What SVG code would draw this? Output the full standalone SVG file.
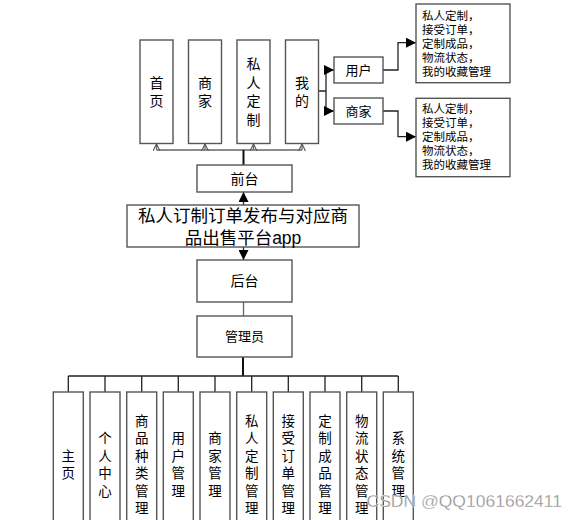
<svg xmlns="http://www.w3.org/2000/svg" width="578" height="520" viewBox="0 0 578 520">
<style>
.box{fill:#fff;stroke:#555;stroke-width:1.4}
.t{font-family:"Liberation Sans","Noto Sans CJK SC",sans-serif;fill:#000;text-anchor:middle}
.vt{font-family:"Noto Sans CJK SC",sans-serif;fill:#000;text-anchor:middle;writing-mode:vertical-rl}
.v{font-size:13.5px;letter-spacing:4px}
.vtop{font-size:14px;letter-spacing:4.7px}
.l{font-family:"Liberation Sans","Noto Sans CJK SC",sans-serif;font-size:11.5px;fill:#000}
.c{fill:none;stroke:#222;stroke-width:1.3}
.g{fill:none;stroke:#666;stroke-width:1.3}
</style>
<defs>
<marker id="fa" markerUnits="userSpaceOnUse" markerWidth="10" markerHeight="10" refX="10" refY="5" orient="auto"><path d="M0,0 L10,5 L0,10 z" fill="#000"/></marker>
<marker id="oa" markerUnits="userSpaceOnUse" markerWidth="10" markerHeight="10" refX="7" refY="4" orient="auto"><path d="M0,0.5 L7,4 L0,7.5" fill="none" stroke="#555" stroke-width="1.1"/></marker>
</defs>
<rect width="578" height="520" fill="#fff"/>

<g id="connectors">
<path class="g" d="M156.5,150 H302"/>
<path class="g" d="M156.5,150 V144" marker-end="url(#oa)"/>
<path class="g" d="M205,150 V144" marker-end="url(#oa)"/>
<path class="g" d="M253.5,150 V144" marker-end="url(#oa)"/>
<path class="g" d="M302,150 V144" marker-end="url(#oa)"/>
<path d="M243.5,165 V150" fill="none" stroke="#111" stroke-width="2"/>
<path class="c" d="M319,91 H326 M326,70 V111"/>
<path class="c" d="M326,70 H334" marker-end="url(#fa)"/>
<path class="c" d="M326,111 H334" marker-end="url(#fa)"/>
<path class="c" d="M383,70 H398 V42.7 H416" marker-end="url(#fa)"/>
<path class="c" d="M383,111 H398 V136.7 H416" marker-end="url(#fa)"/>
<path class="c" d="M243.5,205 V192" marker-end="url(#fa)"/>
<path class="c" d="M243.5,247 V260" marker-end="url(#fa)"/>
<path class="g" d="M243.5,302 V316"/>
<path d="M243,357 V376" fill="none" stroke="#111" stroke-width="2"/>
<path class="c" d="M68.3,376 H398.3 M68.3,376 V392 M105,376 V392 M141.7,376 V392 M178.3,376 V392 M215,376 V392 M251.7,376 V392 M288.3,376 V392 M325,376 V392 M361.7,376 V392 M398.3,376 V392"/>
</g>

<g id="n-home"><rect class="box" x="140" y="40" width="33" height="103.5"/>
<text class="vt vtop" x="156.5" y="94">首页</text></g>
<g id="n-shop"><rect class="box" x="188.5" y="40" width="33" height="103.5"/>
<text class="vt vtop" x="205" y="94">商家</text></g>
<g id="n-custom"><rect class="box" x="237" y="40" width="33" height="103.5"/>
<text class="vt vtop" x="253.5" y="94">私人定制</text></g>
<g id="n-mine"><rect class="box" x="285.5" y="40" width="33" height="103.5"/>
<text class="vt vtop" x="302" y="94">我的</text></g>

<g id="n-user"><rect class="box" x="334" y="57" width="49" height="26"/>
<text class="t" style="font-size:13px" x="358.5" y="74.5">用户</text></g>
<g id="n-merchant"><rect class="box" x="334" y="98" width="49" height="26"/>
<text class="t" style="font-size:13px" x="358.5" y="115.5">商家</text></g>

<g id="n-userfunc"><rect class="box" x="416" y="4" width="94" height="78.7"/>
<text class="l"><tspan x="422" y="19.5">私人定制，</tspan><tspan x="422" y="33.5">接受订单，</tspan><tspan x="422" y="47.5">定制成品，</tspan><tspan x="422" y="61.5">物流状态，</tspan><tspan x="422" y="75.5">我的收藏管理</tspan></text></g>
<g id="n-merchantfunc"><rect class="box" x="416" y="98.3" width="94" height="78.4"/>
<text class="l"><tspan x="422" y="112.8">私人定制，</tspan><tspan x="422" y="126.8">接受订单，</tspan><tspan x="422" y="140.8">定制成品，</tspan><tspan x="422" y="154.8">物流状态，</tspan><tspan x="422" y="168.8">我的收藏管理</tspan></text></g>

<g id="n-front"><rect class="box" x="197" y="165" width="95" height="27"/>
<text class="t" style="font-size:14px" x="244.5" y="183.5">前台</text></g>
<g id="n-main"><rect class="box" x="127" y="205" width="232" height="42"/>
<text class="t" style="font-size:17.5px"><tspan x="243" y="221.5">私人订制订单发布与对应商</tspan><tspan x="243" y="244">品出售平台app</tspan></text></g>
<g id="n-back"><rect class="box" x="197" y="260" width="95" height="42"/>
<text class="t" style="font-size:14px" x="244.5" y="286">后台</text></g>
<g id="n-admin"><rect class="box" x="197" y="316" width="95" height="41"/>
<text class="t" style="font-size:13px" x="244.5" y="341">管理员</text></g>

<g id="n-b1"><rect class="box" x="53.3" y="392" width="30" height="150"/>
<text class="vt v" x="68.3" y="466.5">主页</text></g>
<g id="n-b2"><rect class="box" x="90" y="392" width="30" height="150"/>
<text class="vt v" x="105" y="466.5">个人中心</text></g>
<g id="n-b3"><rect class="box" x="126.7" y="392" width="30" height="150"/>
<text class="vt v" x="141.7" y="466.5">商品种类管理</text></g>
<g id="n-b4"><rect class="box" x="163.3" y="392" width="30" height="150"/>
<text class="vt v" x="178.3" y="466.5">用户管理</text></g>
<g id="n-b5"><rect class="box" x="200" y="392" width="30" height="150"/>
<text class="vt v" x="215" y="466.5">商家管理</text></g>
<g id="n-b6"><rect class="box" x="236.7" y="392" width="30" height="150"/>
<text class="vt v" x="251.7" y="466.5">私人定制管理</text></g>
<g id="n-b7"><rect class="box" x="273.3" y="392" width="30" height="150"/>
<text class="vt v" x="288.3" y="466.5">接受订单管理</text></g>
<g id="n-b8"><rect class="box" x="310" y="392" width="30" height="150"/>
<text class="vt v" x="325" y="466.5">定制成品管理</text></g>
<g id="n-b9"><rect class="box" x="346.7" y="392" width="30" height="150"/>
<text class="vt v" x="361.7" y="466.5">物流状态管理</text></g>
<g id="n-b10"><rect class="box" x="383.3" y="392" width="30" height="150"/>
<text class="vt v" x="398.3" y="466.5">系统管理</text></g>

<text x="366.5" y="506.5" font-family="Liberation Sans, Arial, sans-serif" font-size="16.5" fill="#8c8c8c" stroke="#fff" stroke-width="0.3" textLength="195.5" lengthAdjust="spacingAndGlyphs">CSDN @QQ1061662411</text>
</svg>
